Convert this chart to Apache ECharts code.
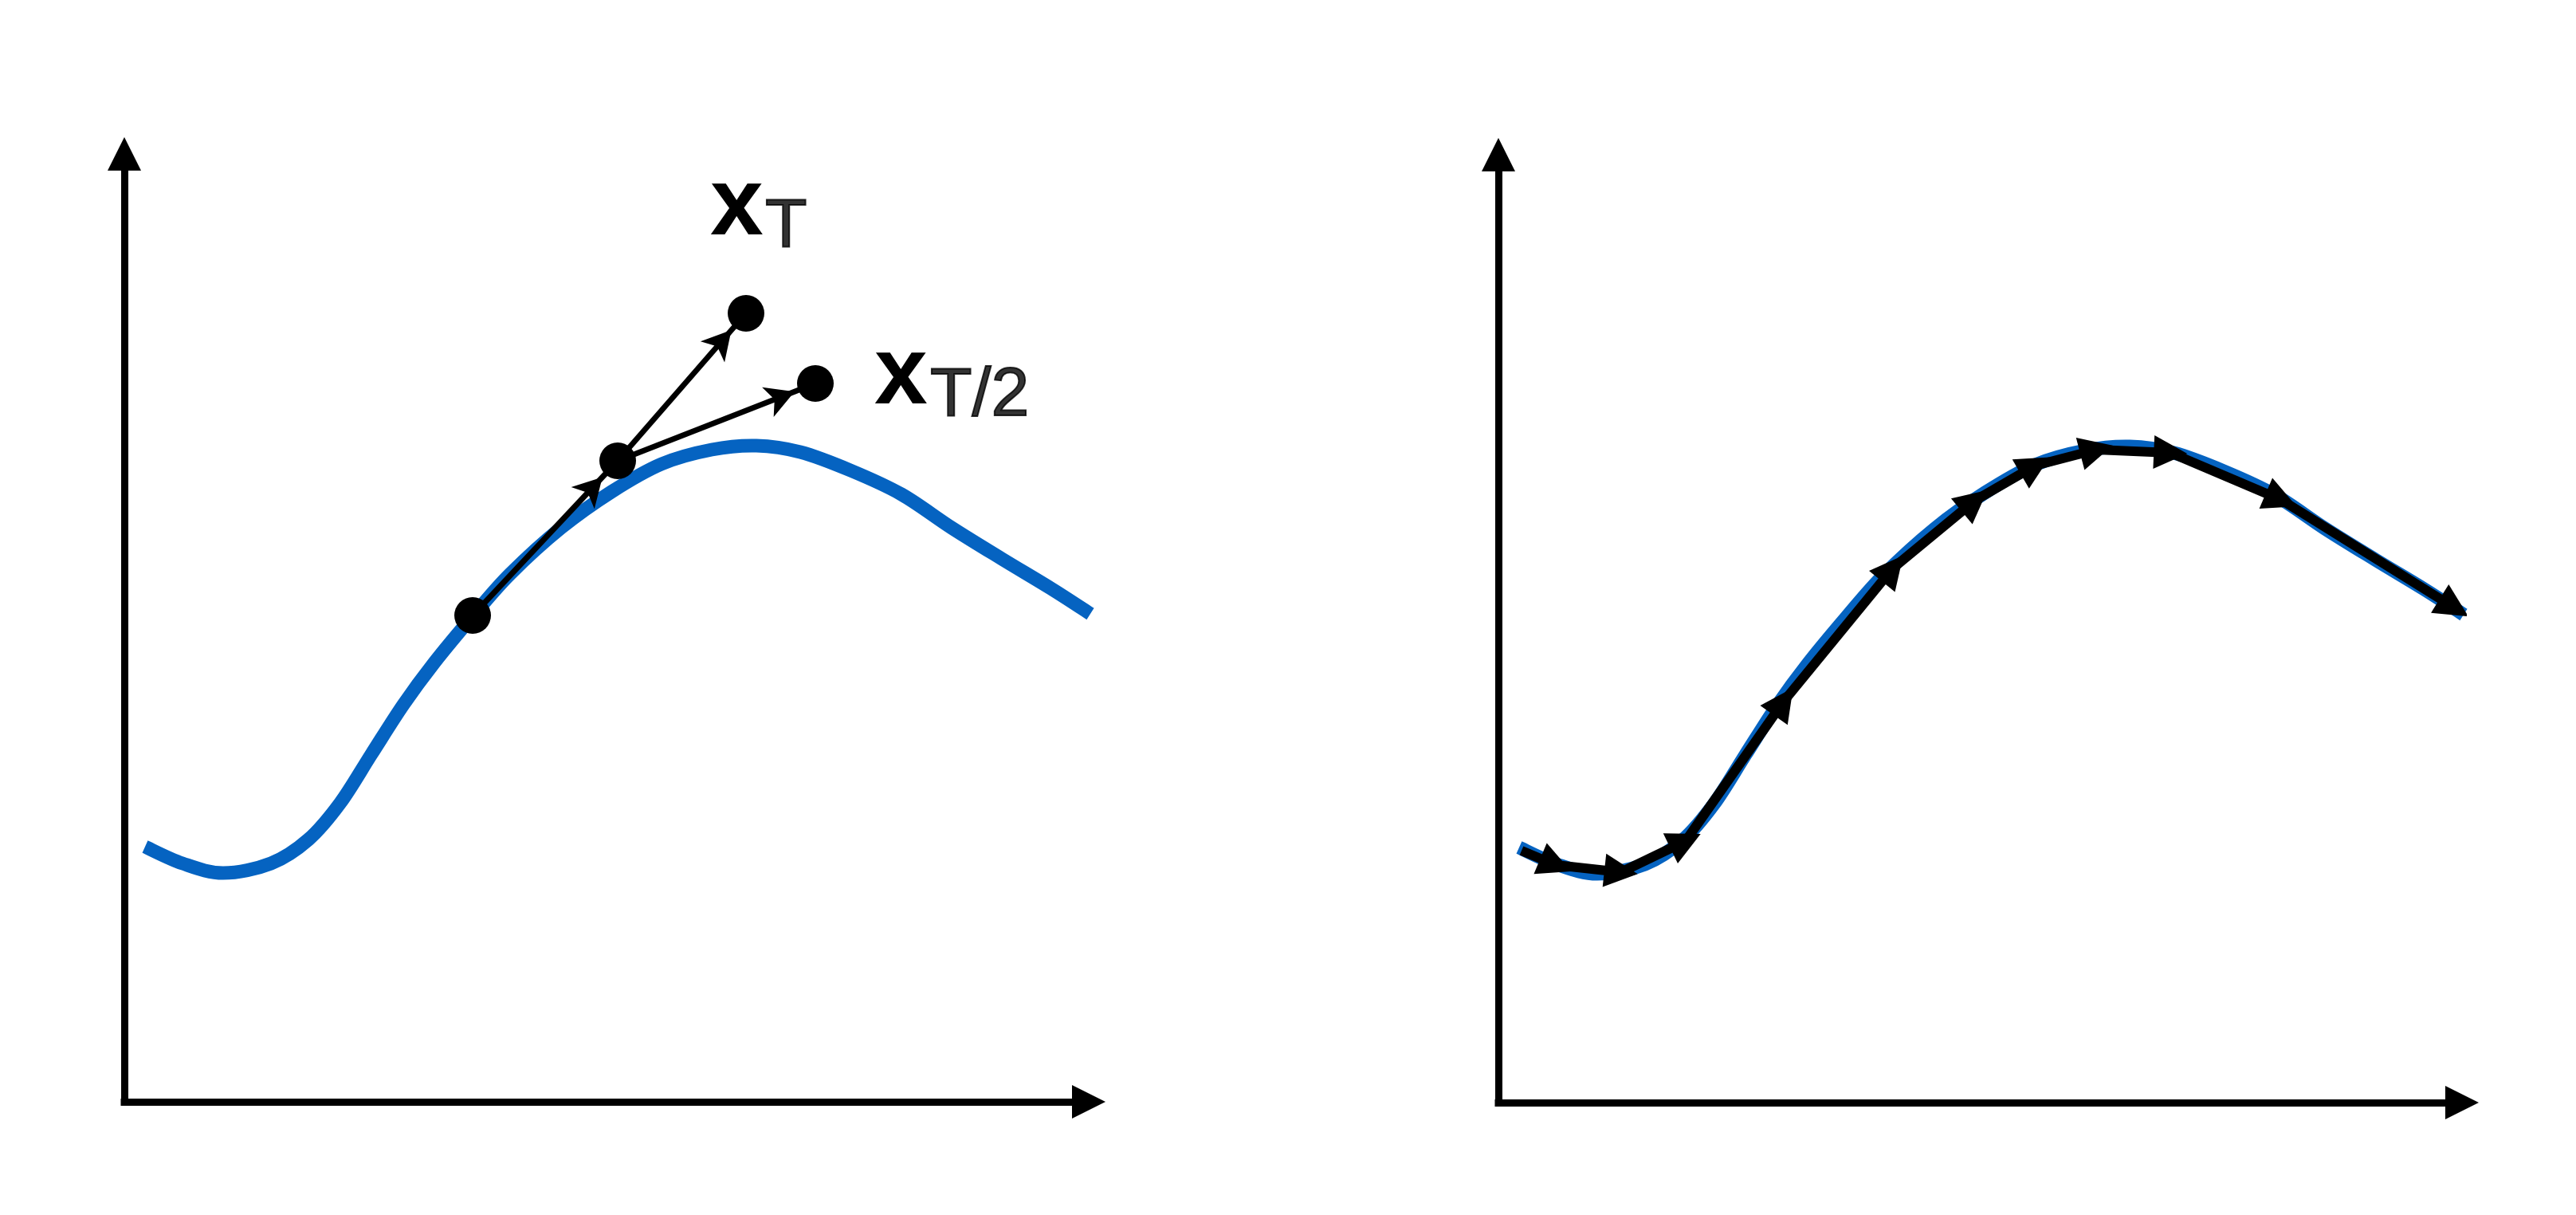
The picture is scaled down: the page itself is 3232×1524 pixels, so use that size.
<!DOCTYPE html>
<html>
<head>
<meta charset="utf-8">
<script src="https://cdn.jsdelivr.net/npm/echarts@6/dist/echarts.min.js"></script>
<style>
  html, body { margin: 0; padding: 0; background: #ffffff; }
  #chart { width: 3232px; height: 1524px; }
</style>
</head>
<body>
<div id="chart"></div>
<script>
// Blue curve (shared by both panels), data units
const curveX = [26, 73, 124, 184, 231, 271, 310, 350, 389, 437, 484, 548, 611, 674, 737, 793, 848, 911, 975, 1038, 1101, 1164, 1212];
const curveY = [320, 299, 287, 299, 329, 375, 436, 498, 551, 609, 662, 720, 765, 800, 818, 823, 815, 792, 762, 720, 681, 643, 612];

// Left panel: start point, intermediate point, x_T, x_{T/2}
const dotX = [437, 619, 780, 867];
const dotY = [610, 804, 989, 901];
const mainLabels = ['', '', 'x', 'x'];
const subLabels = ['', '', 'T', 'T/2'];
// arrows between dots (indices into dot arrays)
const arrowFrom = [0, 1, 1];
const arrowTo = [1, 2, 3];

// Right panel: flow trajectory waypoints (arrow at each waypoint)
const flowX = [29, 72, 154, 235, 358, 495, 598, 674, 751, 844, 983, 1200];
const flowY = [316, 298, 289, 328, 503, 670, 755, 799, 819, 815, 756, 621];

// Axis ranges
const xRange = [0, 1210];
const yRange = [0, 1189];

const curve = curveX.map((x, i) => [x, curveY[i]]);

function makeAxis(gridIndex, range) {
  return {
    type: 'value', gridIndex: gridIndex, min: range[0], max: range[1],
    axisLine: {
      show: true, onZero: false,
      symbol: ['none', 'triangle'], symbolSize: [42, 42],
      lineStyle: { color: '#000', width: 9, cap: 'square' }
    },
    axisTick: { show: false }, axisLabel: { show: false }, splitLine: { show: false }
  };
}

// Smooth curve through the data points (Catmull-Rom rendered as cubic Beziers),
// positions obtained from the axes via api.coord.
function curveRenderer(params, api) {
  if (params.dataIndex !== 0) return null;
  const pts = curve.map(p => api.coord(p));
  const n = pts.length;
  let d = 'M' + pts[0][0] + ' ' + pts[0][1];
  for (let i = 0; i < n - 1; i++) {
    const p0 = pts[Math.max(i - 1, 0)];
    const p1 = pts[i];
    const p2 = pts[i + 1];
    const p3 = pts[Math.min(i + 2, n - 1)];
    const c1x = p1[0] + (p2[0] - p0[0]) / 6, c1y = p1[1] + (p2[1] - p0[1]) / 6;
    const c2x = p2[0] - (p3[0] - p1[0]) / 6, c2y = p2[1] - (p3[1] - p1[1]) / 6;
    d += ' C' + c1x + ' ' + c1y + ' ' + c2x + ' ' + c2y + ' ' + p2[0] + ' ' + p2[1];
  }
  return {
    type: 'path',
    shape: { pathData: d },
    style: { stroke: '#0563c1', lineWidth: 17, fill: 'none', lineCap: 'butt', lineJoin: 'round' }
  };
}

const mainLabelPos = [null, null, [-22, -169], [97, -45]];
const subLabelPos = [null, null, [47, -128], [167, -4]];

const dotData = dotX.map((x, i) => {
  const item = { value: [x, dotY[i]] };
  if (mainLabels[i]) {
    item.label = {
      show: true, formatter: mainLabels[i], position: mainLabelPos[i],
      align: 'left', verticalAlign: 'top',
      fontSize: 120, lineHeight: 120, fontWeight: 'bold',
      fontFamily: 'Liberation Sans', color: '#000'
    };
  }
  return item;
});

const subData = dotX.map((x, i) => {
  const item = { value: [x, dotY[i]] };
  if (subLabels[i]) {
    item.label = {
      show: true, formatter: subLabels[i], position: subLabelPos[i],
      align: 'left', verticalAlign: 'top',
      fontSize: 86, lineHeight: 86, fontWeight: 'normal',
      fontFamily: 'Liberation Sans', color: '#000',
      textBorderColor: '#000', textBorderWidth: 2
    };
  }
  return item;
});

const arrowData = arrowFrom.map((f, i) => [
  { coord: [dotX[f], dotY[f]] },
  { coord: [dotX[arrowTo[i]], dotY[arrowTo[i]]] }
]);

const flowSegments = [];
for (let i = 1; i < flowX.length; i++) {
  flowSegments.push({ coords: [[flowX[i - 1], flowY[i - 1]], [flowX[i], flowY[i]]] });
}

const option = {
  animation: false,
  backgroundColor: '#ffffff',
  grid: [
    { left: 156, top: 193, width: 1210, height: 1189 },
    { left: 1880, top: 194, width: 1209, height: 1189 }
  ],
  xAxis: [makeAxis(0, xRange), makeAxis(1, xRange)],
  yAxis: [makeAxis(0, yRange), makeAxis(1, yRange)],
  series: [
    {
      type: 'custom', coordinateSystem: 'cartesian2d', xAxisIndex: 0, yAxisIndex: 0,
      data: curve, renderItem: curveRenderer, clip: false, z: 2, silent: true
    },
    {
      type: 'scatter', xAxisIndex: 0, yAxisIndex: 0, data: dotData,
      symbol: 'circle', symbolSize: 46, z: 10, silent: true,
      itemStyle: { color: '#000', opacity: 1 },
      label: { show: false },
      markLine: {
        silent: true, animation: false, z: 5,
        symbol: ['none', 'arrow'], symbolSize: [30, 36],
        symbolOffset: [[0, 0], [0, 28]],
        lineStyle: { color: '#000', width: 7, type: 'solid' },
        label: { show: false },
        emphasis: { disabled: true },
        data: arrowData
      }
    },
    {
      type: 'scatter', xAxisIndex: 0, yAxisIndex: 0, data: subData,
      symbol: 'circle', symbolSize: 46, z: 11, silent: true,
      itemStyle: { color: 'rgba(0,0,0,0)' },
      label: { show: false }
    },
    {
      type: 'custom', coordinateSystem: 'cartesian2d', xAxisIndex: 1, yAxisIndex: 1,
      data: curve, renderItem: curveRenderer, clip: false, z: 2, silent: true
    },
    {
      type: 'lines', coordinateSystem: 'cartesian2d', xAxisIndex: 1, yAxisIndex: 1,
      data: flowSegments, z: 4, silent: true,
      symbol: ['none', 'triangle'], symbolSize: 42,
      lineStyle: { color: '#000', width: 12, opacity: 1, curveness: 0 }
    }
  ]
};

const chart = echarts.init(document.getElementById('chart'), null, { renderer: 'canvas' });
chart.setOption(option);
</script>
</body>
</html>
